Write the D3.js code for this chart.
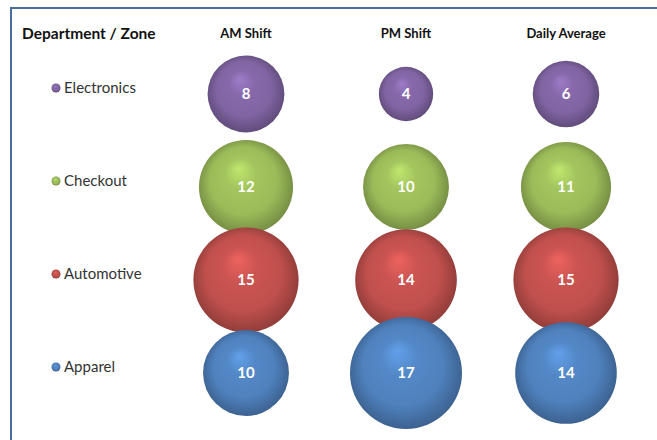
<!DOCTYPE html>
<html><head><meta charset="utf-8">
<script src="https://cdn.jsdelivr.net/npm/d3@7"></script>
<style>html,body{margin:0;padding:0;background:#fff;}svg{display:block;}</style>
</head><body>
<svg id="chart" width="657" height="440"></svg>
<script>
const departments = ["Electronics", "Checkout", "Automotive", "Apparel"];
const shifts = ["AM Shift", "PM Shift", "Daily Average"];
const amShift = [8, 12, 15, 10];
const pmShift = [4, 10, 14, 17];
const dailyAverage = [6, 11, 15, 14];
const colors = ["#8064a2", "#9bbb59", "#c0504d", "#4f81bd"];

const series = [amShift, pmShift, dailyAverage];
const svg = d3.select("#chart");
const font = "Lato, 'Open Sans', sans-serif";

svg.append("rect").attr("width", 657).attr("height", 440).attr("fill", "#fff");
// frame
svg.append("line").attr("x1", 11).attr("x2", 657).attr("y1", 8).attr("y2", 8).attr("stroke", "#4a6b9c").attr("stroke-width", 2);
svg.append("line").attr("x1", 11).attr("x2", 11).attr("y1", 7).attr("y2", 440).attr("stroke", "#4a6b9c").attr("stroke-width", 2);

const x = d3.scalePoint().domain(shifts).range([246, 566]);
const y = d3.scalePoint().domain(departments).range([94, 373]);
const r = d3.scaleSqrt().domain([0, 17]).range([0, 56]);

const defs = svg.append("defs");
colors.forEach((c, i) => {
  const base = d3.color(c);
  const g = defs.append("radialGradient").attr("id", "g" + i)
    .attr("cx", "50%").attr("cy", "50%").attr("r", "55%")
    .attr("fx", "42%").attr("fy", "30%");
  g.append("stop").attr("offset", "0%").attr("stop-color", base.brighter(0.6));
  g.append("stop").attr("offset", "30%").attr("stop-color", base.brighter(0.15));
  g.append("stop").attr("offset", "65%").attr("stop-color", base);
  g.append("stop").attr("offset", "88%").attr("stop-color", base.darker(0.6));
  g.append("stop").attr("offset", "100%").attr("stop-color", base.darker(1.0));
});

// header
svg.append("text").attr("x", 22).attr("y", 39).text("Department / Zone")
  .attr("font-family", font).attr("font-weight", "bold").attr("font-size", 15.5).attr("fill", "#111");
svg.selectAll("text.hdr").data(shifts).join("text").attr("class", "hdr")
  .attr("x", d => x(d)).attr("y", 38).attr("text-anchor", "middle").text(d => d)
  .attr("font-family", font).attr("font-weight", "bold").attr("font-size", 13).attr("fill", "#111");

// row labels
const rows = svg.selectAll("g.row").data(departments).join("g").attr("class", "row");
rows.append("circle").attr("cx", 56).attr("cy", d => y(d) - 6).attr("r", 4.5)
  .attr("fill", (d, i) => "url(#g" + i + ")");
rows.append("text").attr("x", 64).attr("y", d => y(d) - 1).text(d => d)
  .attr("font-family", font).attr("font-size", 15).attr("fill", "#333");

// bubbles
const cells = [];
series.forEach((vals, si) => vals.forEach((v, di) => cells.push({shift: shifts[si], dept: departments[di], v, di})));
const b = svg.selectAll("g.b").data(cells).join("g").attr("class", "b");
b.append("circle").attr("cx", d => x(d.shift)).attr("cy", d => y(d.dept)).attr("r", d => r(d.v))
  .attr("fill", d => "url(#g" + d.di + ")");
b.append("text").attr("x", d => x(d.shift)).attr("y", d => y(d.dept) + 5)
  .attr("text-anchor", "middle").text(d => d.v)
  .attr("font-family", font).attr("font-weight", "bold").attr("font-size", 15).attr("fill", "#fff");
</script>
</body></html>
